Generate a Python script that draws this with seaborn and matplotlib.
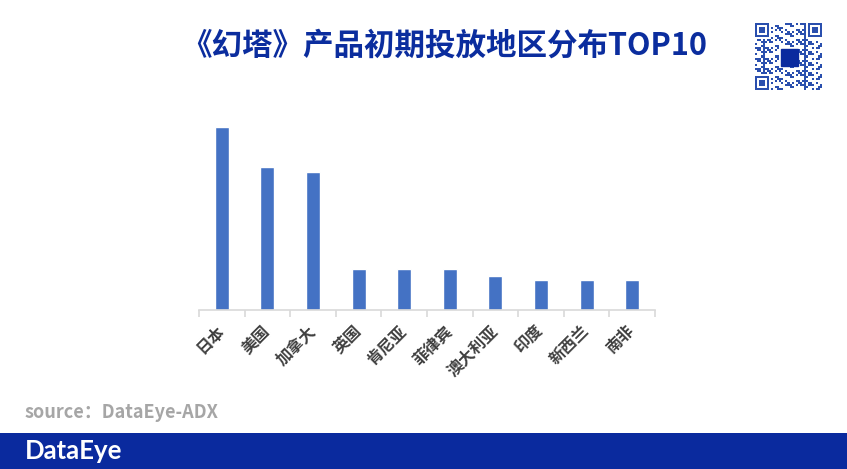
import numpy as np
import pandas as pd
import matplotlib
matplotlib.use("Agg")
import matplotlib.pyplot as plt
import seaborn as sns

categories = ["日本", "美国", "加拿大", "英国", "肯尼亚", "菲律宾", "澳大利亚", "印度", "新西兰", "南非"]
values = [183, 143, 138, 41, 41, 41, 34, 30, 30, 30]
title = "《幻塔》产品初期投放地区分布TOP10"
source = "source：DataEye-ADX"

sns.set_theme(style="white")
plt.rcParams['font.family'] = ['Noto Sans CJK SC', 'DejaVu Sans']

W, H = 847, 469
fig = plt.figure(figsize=(W / 100, H / 100), dpi=100)
fig.patch.set_facecolor("white")

ax = fig.add_axes([199 / W, 1 - 310 / H, (655 - 199) / W, 200 / H])
df = pd.DataFrame({"cat": categories, "val": values})
sns.barplot(data=df, x="cat", y="val", color="#4472c4", saturation=1, width=0.31, ax=ax)
ax.set_ylim(0, 200)
ax.set_xlim(-0.5, len(categories) - 0.5)
ax.set_xlabel("")
ax.set_ylabel("")
ax.set_yticks([])
for s in ["top", "right", "left"]:
    ax.spines[s].set_visible(False)
ax.spines["bottom"].set_color("#d9d9d9")
ax.spines["bottom"].set_linewidth(1.2)
ax.set_xticks(np.arange(-0.5, len(categories) + 0.5, 1), minor=True)
ax.set_xticks(np.arange(len(categories)))
ax.tick_params(axis="x", which="major", length=0, pad=9)
ax.tick_params(axis="x", which="minor", length=5, color="#d9d9d9", width=1.2, bottom=True)
ax.set_xticklabels(categories, rotation=45, ha="right", va="top", rotation_mode="anchor",
                   fontsize=11.5, fontweight="bold", color="#404040")
for lbl in ax.get_xticklabels():
    lbl.set_transform(lbl.get_transform() + matplotlib.transforms.ScaledTranslation(-6 / 100, 0, fig.dpi_scale_trans))

# title
fig.text(444 / W, 1 - 46 / H, title, ha="center", va="center", fontsize=22,
         fontweight="black", color="#0b2d9e")

# source
fig.text(25 / W, 1 - 412 / H, source, ha="left", va="center", fontsize=13,
         fontweight="bold", color="#a6a6a6")

# footer band
band = fig.add_axes([0, 0, 1, 36 / H])
band.set_facecolor("#0a2a9e")
band.set_xticks([]); band.set_yticks([])
for s in band.spines.values():
    s.set_visible(False)
fig.text(25 / W, 1 - 451 / H, "DataEye", ha="left", va="center", fontsize=18.5,
         fontweight="bold", color="white", family=["Lato", "DejaVu Sans"])

# QR-like decoration
qa = fig.add_axes([755 / W, 1 - 90 / H, 67 / W, 67 / H])
n = 33
i, j = np.meshgrid(np.arange(n), np.arange(n))
grid = (((i * 7 + j * 13 + i * j * 3 + (i * i) % 7) % 5) < 2).astype(float)
def finder(r, c):
    grid[r:r + 7, c:c + 7] = 1
    grid[r + 1:r + 6, c + 1:c + 6] = 0
    grid[r + 2:r + 5, c + 2:c + 5] = 1
for r, c in [(0, 0), (0, n - 7), (n - 7, 0)]:
    grid[max(r - 1, 0):r + 8, max(c - 1, 0):c + 8] = 0
    finder(r, c)
grid[12:21, 12:21] = 0
qa.imshow(grid, cmap=matplotlib.colors.ListedColormap(["white", "#2a4fae"]), interpolation="nearest")
qa.add_patch(plt.Rectangle((12.5, 12.5), 8, 8, color="#0a2a9e"))
qa.axis("off")

fig.savefig("out.png", dpi=100, facecolor="white")
